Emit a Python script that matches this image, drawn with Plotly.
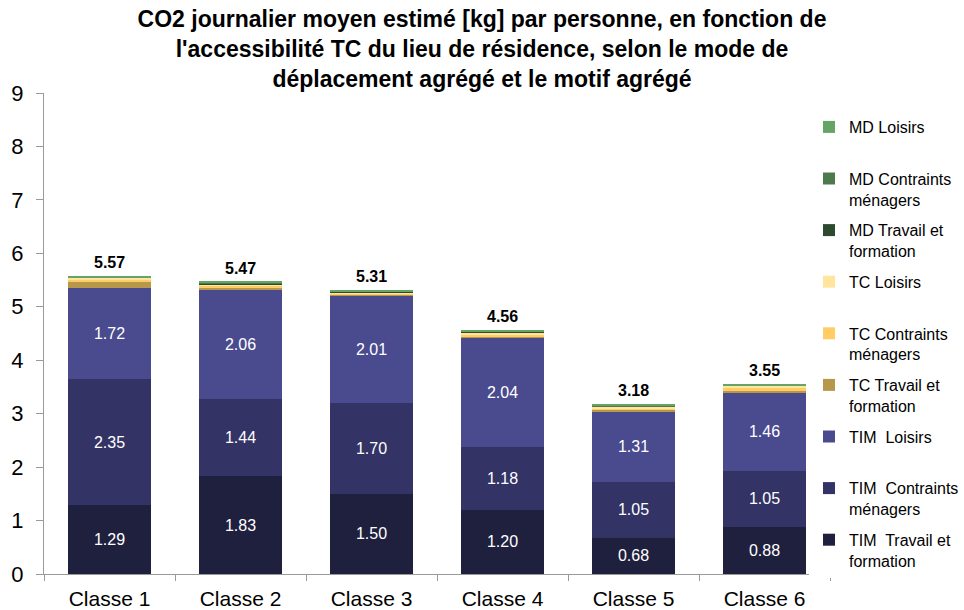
import plotly.graph_objects as go

# Residential PT-accessibility classes
classes = ["Classe 1", "Classe 2", "Classe 3", "Classe 4", "Classe 5", "Classe 6"]

# Daily CO2 per person [kg], by aggregated mode and purpose
tim_travail = [1.29, 1.83, 1.50, 1.20, 0.68, 0.88]
tim_contraints = [2.35, 1.44, 1.70, 1.18, 1.05, 1.05]
tim_loisirs = [1.72, 2.06, 2.01, 2.04, 1.31, 1.46]
tc_travail = [0.10, 0.03, 0.02, 0.02, 0.02, 0.03]
tc_contraints = [0.04, 0.03, 0.02, 0.04, 0.04, 0.06]
tc_loisirs = [0.04, 0.03, 0.02, 0.04, 0.03, 0.04]
md_travail = [0.005, 0.01, 0.01, 0.01, 0.01, 0.00]
md_contraints = [0.005, 0.02, 0.01, 0.01, 0.02, 0.01]
md_loisirs = [0.02, 0.02, 0.02, 0.02, 0.02, 0.02]

# (name, values, colour, show value labels) from bottom of the stack upwards
series = [
    ("TIM  Travail et<br>formation", tim_travail, "#1f1f3e", True),
    ("TIM  Contraints<br>ménagers", tim_contraints, "#333366", True),
    ("TIM  Loisirs<br> ", tim_loisirs, "#4a4a8e", True),
    ("TC Travail et<br>formation", tc_travail, "#b7984b", False),
    ("TC Contraints<br>ménagers", tc_contraints, "#ffcc66", False),
    ("TC Loisirs<br> ", tc_loisirs, "#ffe59e", False),
    ("MD Travail et<br>formation", md_travail, "#2e4a2e", False),
    ("MD Contraints<br>ménagers", md_contraints, "#4c7a4c", False),
    ("MD Loisirs<br> ", md_loisirs, "#66a366", False),
]

FONT = "Liberation Sans, Arial, sans-serif"
AXIS_GREY = "#9a9a9a"

fig = go.Figure()
for i, (name, vals, color, labelled) in enumerate(series):
    fig.add_trace(go.Bar(
        x=classes,
        y=vals,
        name=name,
        legendgroup=f"g{i}",
        legendrank=1000 - i,  # top of the stack listed first
        marker=dict(color=color, line=dict(width=0)),
        texttemplate="%{y:.2f}" if labelled else None,
        textposition="inside" if labelled else "none",
        insidetextanchor="middle",
        textangle=0,
        constraintext="none",
        textfont=dict(color="white", size=16, family=FONT),
        hoverinfo="x+y+name",
    ))

# Totals above each stacked bar
totals = [sum(s[1][k] for s in series) for k in range(len(classes))]
for cat, tot in zip(classes, totals):
    fig.add_annotation(
        x=cat, y=tot, text=f"<b>{tot:.2f}</b>",
        showarrow=False, yanchor="bottom", yshift=3,
        font=dict(size=16, color="black", family=FONT),
    )

fig.update_layout(
    width=964,
    height=610,
    barmode="stack",
    bargap=0.37,
    paper_bgcolor="white",
    plot_bgcolor="white",
    font=dict(family=FONT, color="black"),
    margin=dict(l=44, r=134, t=93, b=36, autoexpand=False),
    title=dict(
        text="<b>CO2 journalier moyen estimé [kg] par personne, en fonction de<br>"
             "l'accessibilité TC du lieu de résidence, selon le mode de<br>"
             "déplacement agrégé et le motif agrégé</b>",
        x=0.5, xref="container", xanchor="center",
        y=1 - 27 / 610, yref="container", yanchor="top",
        font=dict(size=23, family=FONT, color="black"),
    ),
    legend=dict(
        traceorder="grouped",
        tracegroupgap=7,
        valign="top",
        itemwidth=30,
        maxheight=600,
        xref="container", x=809 / 964, xanchor="left",
        yref="container", y=1 - 110 / 610, yanchor="top",
        font=dict(size=16, family=FONT, color="black"),
        itemclick=False,
        itemdoubleclick=False,
    ),
    xaxis=dict(
        automargin=False,
        showline=True, linecolor=AXIS_GREY, linewidth=1,
        ticks="outside", tickson="boundaries", ticklen=6, tickcolor=AXIS_GREY,
        ticklabelstandoff=6,
        tickfont=dict(size=21, family=FONT, color="black"),
        showgrid=False,
    ),
    yaxis=dict(
        automargin=False,
        range=[0, 9], dtick=1,
        showline=True, linecolor=AXIS_GREY, linewidth=1,
        ticks="outside", ticklen=7, tickcolor=AXIS_GREY,
        ticklabelstandoff=8,
        tickfont=dict(size=22, family=FONT, color="black"),
        showgrid=False, zeroline=False,
    ),
)

fig.write_html("out.html")
